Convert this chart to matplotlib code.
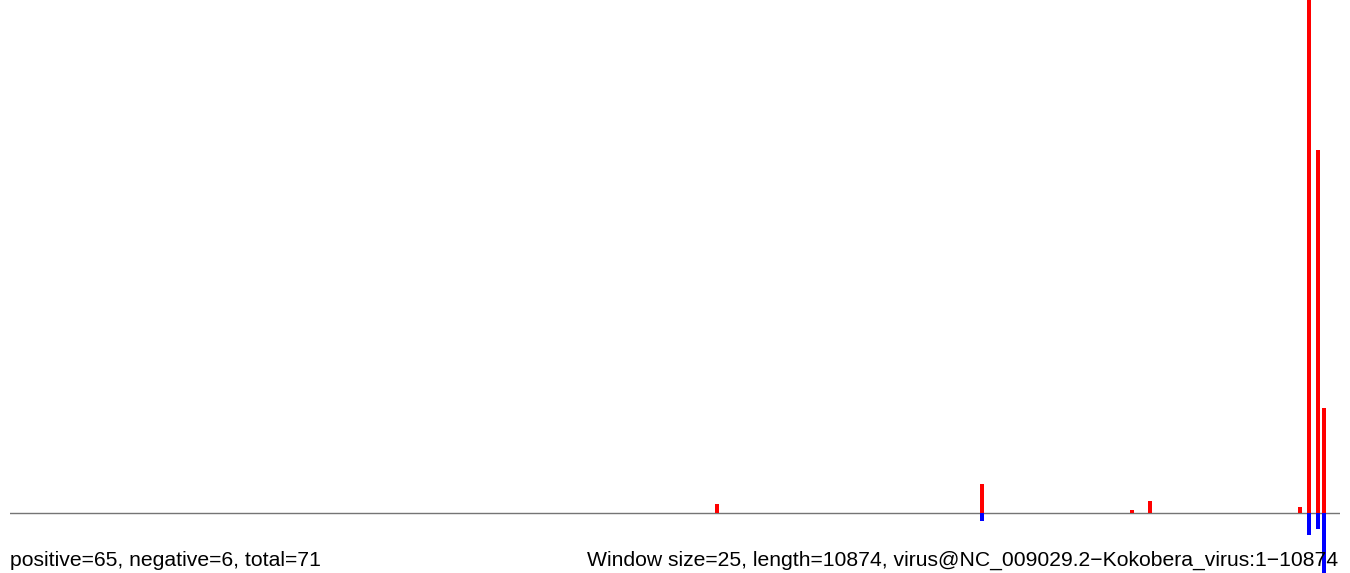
import matplotlib
matplotlib.use("Agg")
import matplotlib.pyplot as plt

genome_length = 10874
window_size = 25
positions = [5780, 7947, 9173, 9321, 10547, 10621, 10694, 10743]
positive = [3, 10, 1, 4, 2, 200, 128, 37]
negative = [0, 3, 0, 0, 0, 8, 6, 25]

left_label = "positive=65, negative=6, total=71"
right_label = "Window size=25, length=10874, virus@NC_009029.2\u2212Kokobera_virus:1\u221210874"

W, H = 1350, 573
fig = plt.figure(figsize=(W / 100, H / 100), dpi=100)
ax = fig.add_axes([10 / W, 0, 1330 / W, 1])
ax.set_xlim(0, genome_length)
ax.set_ylim(-(H - 512.5) / 2.83, 512.5 / 2.83)
ax.axis("off")

bar_w = 33
ax.bar(positions, positive, width=bar_w, color="#ff0000", linewidth=0, zorder=2)
ax.bar(positions, [-v for v in negative], width=bar_w, color="#0000ff", linewidth=0, zorder=2)
ax.axhline(0, color="#757575", linewidth=1.0, zorder=1)

font = ["Liberation Sans", "DejaVu Sans"]
fig.text(10 / W, (H - 566) / H, left_label, ha="left", va="baseline",
         fontsize=15.2, family=font, color="#000000", zorder=1)
fig.text(1338 / W, (H - 566) / H, right_label, ha="right", va="baseline",
         fontsize=15.2, family=font, color="#000000", zorder=1)

fig.savefig("out.png", dpi=100)
